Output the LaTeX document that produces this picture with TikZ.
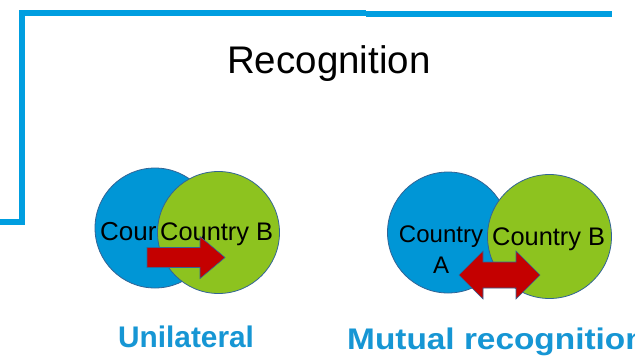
\documentclass[tikz,border=0pt]{standalone}
\usepackage{fontspec}
\setmainfont{Liberation Sans}
\definecolor{framebl}{RGB}{0,158,224}
\definecolor{circbl}{RGB}{0,150,214}
\definecolor{circgr}{RGB}{141,195,31}
\definecolor{circline}{RGB}{50,100,150}
\definecolor{arrred}{RGB}{196,0,0}
\definecolor{labbl}{RGB}{22,150,212}
\tikzset{
  framestyle/.style={draw=framebl, line width=6.5pt},
  bluecirc/.style={circle, draw=circline, line width=0.8pt, fill=circbl, inner sep=0pt},
  greencirc/.style={circle, draw=circline, line width=0.8pt, fill=circgr, inner sep=0pt},
  ctext/.style={font=\fontsize{25}{31}\selectfont, text=black, inner sep=0pt},
  redarrow/.style={fill=arrred, draw=circline, line width=0.6pt, line join=miter},
  caption/.style={font=\fontsize{29.8}{34}\selectfont\bfseries, text=labbl, inner sep=0pt},
  titlestyle/.style={font=\fontsize{38.5}{44}\selectfont, text=black, inner sep=0pt}
}
\begin{document}
\begin{tikzpicture}[x=1pt,y=-1pt]
\useasboundingbox (0,0) rectangle (635,357);
\fill[white] (0,0) rectangle (635,357);
% frame
\coordinate (fa) at (0,222);
\coordinate (fb) at (22,222);
\coordinate (fc) at (22,13);
\coordinate (fd) at (366,13);
\coordinate (fe) at (366,14);
\coordinate (ff) at (612,14);
\draw[framestyle, line cap=butt] (fa) -- (fb) -- (fc) -- (fd);
\draw[framestyle] (fe) -- (ff);
% title
\node[titlestyle, anchor=base west] (title) at (227,73) {Recognition};
% left diagram
\node[bluecirc, minimum size=120pt] (lA) at (155,228) {};
\node[ctext, font=\fontsize{26}{31}\selectfont, anchor=base west] (lAt) at (100,240) {Cour};
\node[greencirc, minimum size=122pt] (lB) at (218.5,232.5) {};
\node[ctext, font=\fontsize{25.4}{31}\selectfont, anchor=base west] (lBt) at (160,240) {Country B};
\draw[redarrow] (147,247.5) -- (200,247.5) -- (200,236.5) -- (225,257.5) -- (200,278.5) -- (200,267.5) -- (147,267.5) -- cycle;
\node[caption, anchor=base west] (lcap) at (118,347) {Unilateral};
% right diagram
\node[bluecirc, minimum size=121pt] (rA) at (448,232.5) {};
\node[ctext, font=\fontsize{24}{31}\selectfont, align=center, anchor=base] (rAt) at (441,273) {Country\\A};
\node[greencirc, minimum size=124pt] (rB) at (549.5,236.5) {};
\node[ctext, font=\fontsize{25.4}{31}\selectfont, anchor=base west] (rBt) at (492,245) {Country B};
\draw[redarrow] (459,275) -- (483,251) -- (483,262) -- (516,262) -- (516,251) -- (540,275) -- (516,299) -- (516,288) -- (483,288) -- (483,299) -- cycle;
\begin{scope}
\clip (0,0) rectangle (635,357);
\node[caption, anchor=base west, xscale=1.12] (rcap) at (347,349) {Mutual recognition};
\end{scope}
\end{tikzpicture}
\end{document}
